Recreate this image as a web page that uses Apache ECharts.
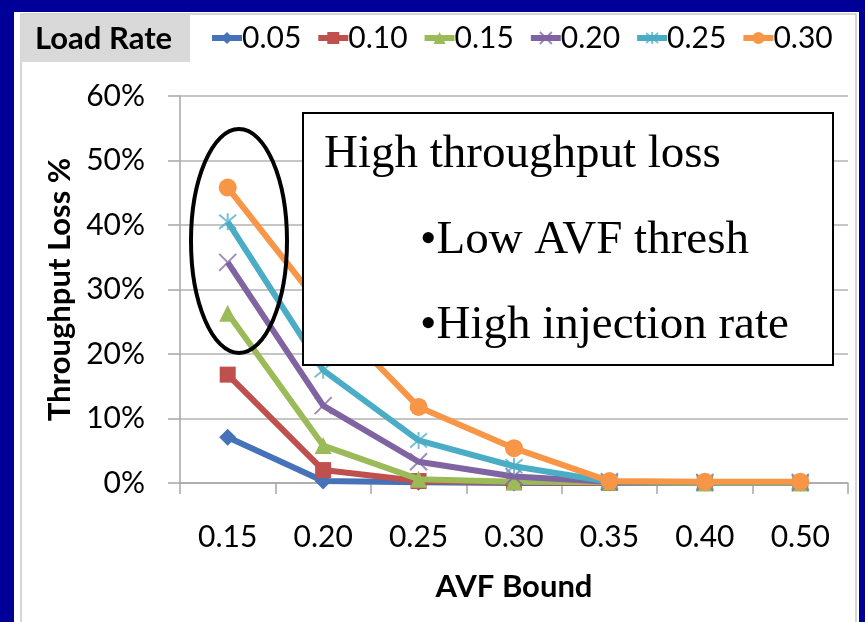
<!DOCTYPE html>
<html>
<head>
<meta charset="utf-8">
<script src="https://cdn.jsdelivr.net/npm/echarts@6/dist/echarts.min.js"></script>
<style>
html,body{margin:0;padding:0;background:#000099;}
#chart{width:865px;height:622px;}
</style>
</head>
<body>
<div id="chart"></div>
<script>
// ---- data ----
var categories = ['0.15', '0.20', '0.25', '0.30', '0.35', '0.40', '0.50'];
var seriesNames = ['0.05', '0.10', '0.15', '0.20', '0.25', '0.30'];
var load005 = [7.1, 0.3, 0.1, 0.0, 0.0, 0.0, 0.0];
var load010 = [16.8, 2.0, 0.3, 0.1, 0.0, 0.0, 0.0];
var load015 = [26.3, 5.8, 0.6, 0.2, 0.1, 0.0, 0.0];
var load020 = [34.2, 12.0, 3.3, 1.0, 0.2, 0.1, 0.1];
var load025 = [40.5, 17.5, 6.6, 2.6, 0.2, 0.1, 0.1];
var load030 = [45.8, 27.0, 11.8, 5.4, 0.3, 0.2, 0.2];
var yTicks = { min: 0, max: 60, interval: 10 };
var legendTitle = 'Load Rate';
var xTitle = 'AVF Bound';
var yTitle = 'Throughput Loss %';
var noteLines = ['High throughput loss', '\u2022Low AVF thresh', '\u2022High injection rate'];

var seriesData = [load005, load010, load015, load020, load025, load030];
var colors = ['#4572b8', '#c0504d', '#9bbb59', '#8064a2', '#4bacc6', '#f79646'];
var xPath = 'path://M0,0 L20,20 M20,0 L0,20';
var starPath = 'path://M0,0 L20,20 M20,0 L0,20 M10,-2 L10,22';
var symbols = ['diamond', 'rect', 'triangle', xPath, starPath, 'circle'];
var sizes = [17, 16, 17, 17, 17, 18];

var chart = echarts.init(document.getElementById('chart'), null, { renderer: 'canvas' });

var series = seriesData.map(function (d, i) {
  var stroked = (i === 3 || i === 4);
  return {
    name: seriesNames[i],
    type: 'line',
    data: d,
    symbol: symbols[i],
    symbolSize: sizes[i],
    showAllSymbol: true,
    lineStyle: { color: colors[i], width: 6 },
    itemStyle: stroked
      ? { color: 'rgba(0,0,0,0)', borderColor: colors[i], borderWidth: 2, opacity: 0.75 }
      : { color: colors[i], borderColor: colors[i], borderWidth: 0 },
    emphasis: { disabled: true },
    z: 2 + i
  };
});

var font = 'Lato, "Noto Sans", sans-serif';

var option = {
  animation: false,
  backgroundColor: 'transparent',
  color: colors,
  grid: { left: 180, right: 17, top: 96, bottom: 139, containLabel: false },
  legend: {
    left: 209,
    top: 23,
    padding: 0,
    itemWidth: 30,
    itemHeight: 15,
    itemGap: 14,
    lineStyle: { width: 6 },
    textStyle: { fontFamily: font, fontSize: 30, color: '#000', padding: [0, 0, 0, -5] },
    data: seriesNames
  },
  xAxis: {
    type: 'category',
    data: categories,
    boundaryGap: true,
    name: xTitle,
    nameLocation: 'middle',
    nameGap: 88,
    nameTextStyle: { fontFamily: font, fontSize: 31, fontWeight: 'bold', color: '#000' },
    axisLine: { lineStyle: { color: '#a6a6a6', width: 1.5 } },
    axisTick: { show: true, length: 11, lineStyle: { color: '#a6a6a6', width: 1.5 } },
    axisLabel: { fontFamily: font, fontSize: 30, color: '#000', margin: 39 },
    splitLine: { show: false }
  },
  yAxis: {
    type: 'value',
    min: yTicks.min,
    max: yTicks.max,
    interval: yTicks.interval,
    name: yTitle,
    nameLocation: 'middle',
    nameRotate: 90,
    nameGap: 104,
    nameTextStyle: { fontFamily: font, fontSize: 31, fontWeight: 'bold', color: '#000' },
    axisLine: { show: true, lineStyle: { color: '#a6a6a6', width: 1.5 } },
    axisTick: { show: true, length: 12, lineStyle: { color: '#a6a6a6', width: 1.5 } },
    axisLabel: { fontFamily: font, fontSize: 30, color: '#000', margin: 35, formatter: '{value}%' },
    splitLine: { show: true, lineStyle: { color: '#b3b3b3', width: 1.5 } }
  },
  graphic: {
    elements: [
      { type: 'rect', z: -100, silent: true, shape: { x: 14, y: 12, width: 845, height: 620 }, style: { fill: '#ffffff' } },
      { type: 'rect', z: -99, silent: true, shape: { x: 21, y: 14, width: 835, height: 620 }, style: { fill: 'none', stroke: '#c8c8c8', lineWidth: 1.5 } },
      { type: 'rect', z: -98, silent: true, shape: { x: 21, y: 15, width: 169, height: 47 }, style: { fill: '#d9d9d9' } },
      { type: 'text', z: 50, silent: true, x: 35, y: 39, style: { text: legendTitle, font: 'bold 31px ' + font, fill: '#000', verticalAlign: 'middle', align: 'left' } },
      { type: 'ellipse', z: 60, silent: true, shape: { cx: 239, cy: 241, rx: 48, ry: 112 }, style: { fill: 'none', stroke: '#000', lineWidth: 4 } },
      { type: 'rect', z: 70, silent: true, shape: { x: 303, y: 113, width: 530, height: 252 }, style: { fill: '#ffffff', stroke: '#000', lineWidth: 2 } },
      { type: 'text', z: 71, silent: true, x: 324, y: 155, style: { text: noteLines[0], font: '47px "Liberation Serif", serif', fill: '#000', verticalAlign: 'middle' } },
      { type: 'text', z: 71, silent: true, x: 420, y: 241, style: { text: noteLines[1], font: '47px "Liberation Serif", serif', fill: '#000', verticalAlign: 'middle' } },
      { type: 'text', z: 71, silent: true, x: 420, y: 326, style: { text: noteLines[2], font: '47px "Liberation Serif", serif', fill: '#000', verticalAlign: 'middle' } }
    ]
  },
  series: series
};

chart.setOption(option);
</script>
</body>
</html>
